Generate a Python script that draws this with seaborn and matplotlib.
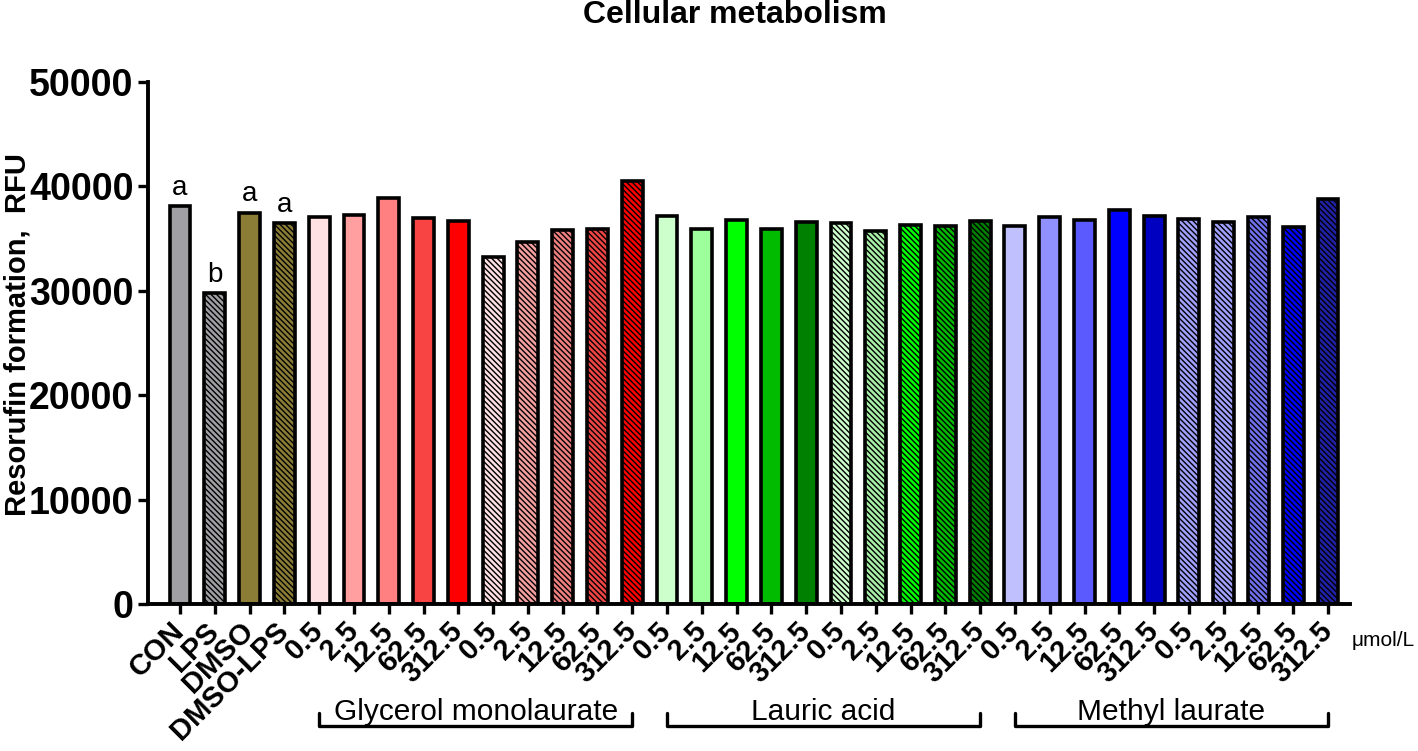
import matplotlib
matplotlib.use("Agg")
import matplotlib.pyplot as plt
import matplotlib.transforms as mtransforms
import seaborn as sns
import pandas as pd

# categories (in plotting order) and what the ticks show
etiquetas = ["CON", "LPS", "DMSO", "DMSO-LPS"] + ["0.5", "2.5", "12.5", "62.5", "312.5"] * 6

valores = [38100, 29800, 37500, 36500,
           # glycerol monolaurate (solid, then hatched)
           37100, 37300, 38900, 37000, 36700,
           33200, 34700, 35800, 35900, 40500,
           # lauric acid
           37200, 35900, 36800, 35900, 36600,
           36500, 35700, 36300, 36200, 36700,
           # methyl laurate
           36200, 37100, 36800, 37700, 37200,
           36900, 36600, 37100, 36100, 38800]

colores = ["#a0a0a4", "#a0a0a4", "#8b7d36", "#8b7d36",
           "#ffe0e3", "#ff9fa0", "#ff8080", "#f94444", "#ff0000",
           "#ffe0e3", "#f5a0a0", "#f08080", "#f04545", "#ff0000",
           "#ccffcc", "#9cff9c", "#00ff00", "#00bb00", "#008000",
           "#ccffcc", "#a8f0a8", "#00ff00", "#00bb00", "#008000",
           "#c0c0ff", "#9090ff", "#5a5aff", "#0000ff", "#0000c0",
           "#a0a0ff", "#a0a0ff", "#7070ee", "#0000ff", "#2020a8"]

rayado = [False, True, False, True] + ([False] * 5 + [True] * 5) * 3

letras = {0: "a", 1: "b", 2: "a", 3: "a"}

grupos = [("Glycerol monolaurate", 4, 13),
          ("Lauric acid", 14, 23),
          ("Methyl laurate", 24, 33)]

sns.set_style("ticks")
plt.rcParams["font.family"] = ["Liberation Sans", "DejaVu Sans"]
plt.rcParams["hatch.linewidth"] = 1.0
for k in ["text.color", "axes.labelcolor", "xtick.color", "ytick.color"]:
    plt.rcParams[k] = "black"

df = pd.DataFrame({"id": [f"b{i}" for i in range(len(valores))], "valor": valores})

fig = plt.figure(figsize=(14.18, 7.51), dpi=100)
ax = fig.add_axes([0.1044, 0.1957, 0.8476, 0.6951])

sns.barplot(data=df, x="id", y="valor", hue="id", palette=colores, legend=False,
            saturation=1, edgecolor="black", linewidth=2.6, width=0.6, ax=ax)

barras = sorted(ax.patches, key=lambda p: p.get_x())
for p, h in zip(barras, rayado):
    if h:
        p.set_hatch("\\\\\\\\\\\\")

ax.set_ylim(0, 50000)
ax.set_xlim(-0.92, 33.63)
ax.set_yticks([0, 10000, 20000, 30000, 40000, 50000])
ax.set_yticklabels(["0", "10000", "20000", "30000", "40000", "50000"],
                   fontsize=27, fontweight="bold")
ax.set_xticks(range(len(etiquetas)))
ax.set_xticklabels(etiquetas, rotation=45, ha="right", va="center",
                   rotation_mode="anchor", fontsize=21, fontweight="bold")
ax.set_xlabel("")
ax.set_ylabel("")
ax.tick_params(axis="both", width=2.4, length=7.5, color="black")
ax.tick_params(axis="x", pad=9)
ax.tick_params(axis="y", pad=3)
for lado in ["left", "bottom"]:
    ax.spines[lado].set_linewidth(2.8)
    ax.spines[lado].set_color("black")
sns.despine(ax=ax)

# significance letters
for i, txt in letras.items():
    ax.text(i, valores[i] + 500, txt, ha="center", va="bottom", fontsize=20)

# group brackets under the tick labels
tr = mtransforms.blended_transform_factory(ax.transData, ax.transAxes)
for nombre, i0, i1 in grupos:
    ax.plot([i0, i0, i1, i1], [-0.209, -0.234, -0.234, -0.209], color="black",
            lw=2.4, transform=tr, clip_on=False)
    ax.text((i0 + i1) / 2, -0.222, nombre, ha="center", va="baseline",
            fontsize=21.5, transform=tr)

ax.text(34.6, -0.069, "μmol/L", ha="center", va="center", fontsize=15, transform=tr)

fig.text(0.518, 0.98, "Cellular metabolism", ha="center", va="center",
         fontsize=23, fontweight="bold")
fig.text(0.012, 0.554, "Resorufin formation,  RFU", ha="center", va="center",
         rotation=90, fontsize=21, fontweight="bold")

fig.savefig("out.png", dpi=100)
